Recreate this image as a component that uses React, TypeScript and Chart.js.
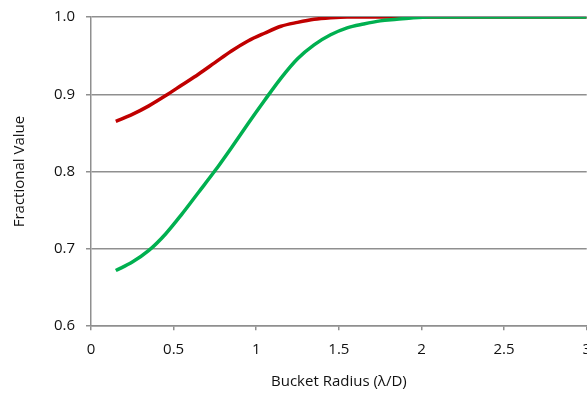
import React, { useEffect, useRef } from "react";
import { Chart, registerables } from "chart.js";

Chart.register(...registerables);

const radii = [0.15, 0.25, 0.35, 0.45, 0.55, 0.65, 0.75, 0.85, 0.95, 1.05, 1.15, 1.25, 1.35, 1.45, 1.55, 1.65, 1.75, 1.85, 1.95, 2.05, 2.5, 3.0];
const redValues = [0.865, 0.874, 0.885, 0.898, 0.912, 0.926, 0.941, 0.956, 0.969, 0.979, 0.988, 0.993, 0.997, 0.999, 1, 1, 1, 1, 1, 1, 1, 1];
const greenValues = [0.672, 0.683, 0.698, 0.719, 0.745, 0.773, 0.801, 0.831, 0.862, 0.892, 0.921, 0.946, 0.964, 0.977, 0.986, 0.991, 0.995, 0.997, 0.999, 1, 1, 1];
const xTitle = "Bucket Radius (λ/D)";
const yTitle = "Fractional Value";

export default function App() {
  const ref = useRef<HTMLCanvasElement | null>(null);
  useEffect(() => {
    if (!ref.current) return;
    const toPts = (vals: number[]) => radii.map((x, i) => ({ x, y: vals[i] }));
    const axisGray = "#8f8f8f";
    const font = { family: "'Open Sans'", size: 15 };
    const chart = new Chart(ref.current, {
      type: "line",
      data: {
        datasets: [
          {
            label: "green",
            data: toPts(greenValues),
            borderColor: "#00B050",
            borderWidth: 3.5,
            pointRadius: 0,
            cubicInterpolationMode: "monotone",
            fill: false,
          },
          {
            label: "red",
            data: toPts(redValues),
            borderColor: "#C00000",
            borderWidth: 3.5,
            pointRadius: 0,
            cubicInterpolationMode: "monotone",
            fill: false,
          },
        ],
      },
      options: {
        animation: false,
        responsive: false,
        maintainAspectRatio: false,
        layout: { padding: { top: 12, right: 5, bottom: 0, left: 0 } },
        plugins: { legend: { display: false }, tooltip: { enabled: false } },
        scales: {
          x: {
            type: "linear",
            min: 0,
            max: 3,
            afterFit: (s: any) => {
              s.height = 67.8;
            },
            ticks: {
              stepSize: 0.5,
              padding: 11,
              color: "#111",
              font,
              maxRotation: 0,
              callback: (v: any) => String(v),
            },
            grid: {
              drawOnChartArea: false,
              drawTicks: true,
              tickLength: 4,
              color: axisGray,
              lineWidth: 1.5,
            },
            border: { display: true, color: axisGray, width: 1.5 },
            title: {
              display: true,
              text: xTitle,
              color: "#111",
              font,
              padding: { top: 3, bottom: 3 },
            },
          },
          y: {
            type: "linear",
            min: 0.6,
            max: 1.0,
            afterFit: (s: any) => {
              s.width = 91;
            },
            ticks: {
              stepSize: 0.1,
              padding: 11,
              color: "#111",
              font,
              callback: (v: any) => Number(v).toFixed(1),
            },
            grid: {
              drawOnChartArea: true,
              drawTicks: true,
              tickLength: 5,
              color: axisGray,
              lineWidth: 1.5,
            },
            border: { display: true, color: axisGray, width: 1.5 },
            title: {
              display: true,
              text: yTitle,
              color: "#111",
              font,
              padding: { top: 11, bottom: 11 },
            },
          },
        },
      },
    } as any);
    return () => chart.destroy();
  }, []);
  return (
    <div style={{ position: "fixed", left: 0, top: 0, width: 587, height: 393, overflow: "hidden", background: "#fff" }}>
      <div style={{ position: "absolute", left: 0, top: -3.5, width: 602, height: 397 }}>
        <canvas ref={ref} width={602} height={397} style={{ display: "block", width: 602, height: 397 }} />
      </div>
    </div>
  );
}
